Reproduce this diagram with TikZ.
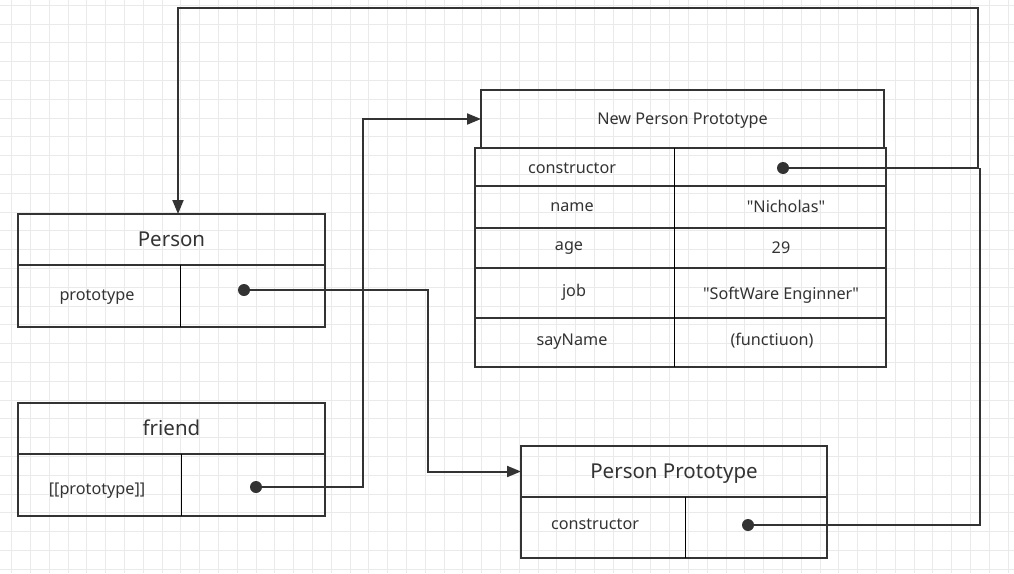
\documentclass[tikz,border=0pt]{standalone}
\usepackage{fontspec}
\setmainfont{Noto Sans}
\usetikzlibrary{arrows.meta, positioning}
\definecolor{ink}{HTML}{333333}
\definecolor{gridgray}{HTML}{EAEAEA}

\begin{document}
\begin{tikzpicture}[x=1pt, y=-1pt, >={Triangle[length=14pt, width=11pt]},
  head/.style={draw=ink, line width=1.8pt, text=ink, inner sep=0pt, outer sep=0pt, text height=18.6pt, text depth=4pt, font=\fontsize{20.5}{23}\selectfont},
  row/.style={draw=ink, line width=1.8pt, inner sep=0pt, outer sep=0pt},
  label/.style={text=ink, inner sep=0pt, text height=15pt, text depth=3.4pt, font=\fontsize{16.2}{19}\selectfont},
  divider/.style={draw=black, line width=1pt},
  ptr/.style={circle, fill=ink, inner sep=0pt, minimum size=12pt},
  link/.style={draw=ink, line width=2pt, line join=miter}]
\useasboundingbox (0,0) rectangle (1014,573);
% background grid
\foreach \i in {0,...,53} \draw[gridgray, line width=1pt] ({11.6+18.8*\i},0) -- ++(0,573);
\foreach \j in {0,...,30} \draw[gridgray, line width=1pt] (0,{5.3+18.8*\j}) -- ++(1014,0);

% Person
\node[head, minimum width=307, minimum height=51] (person) at (171.5,239.5) {Person};
\node[row, minimum width=307, minimum height=62, below=0 of person] (personrow) {};
\node[label] (personkey) at (97,295) {prototype};
\node[ptr] (personptr) at (244,290) {};
\draw[divider] (personrow.north west -| 180,0) -- (personrow.south west -| 180,0);

% friend
\node[head, minimum width=307, minimum height=51] (friend) at (171.5,428.5) {friend};
\node[row, minimum width=307, minimum height=62, below=0 of friend] (friendrow) {};
\node[label] (friendkey) at (97,489) {[[prototype]]};
\node[ptr] (friendptr) at (256,487) {};
\draw[divider] (friendrow.north west -| 181,0) -- (friendrow.south west -| 181,0);

% Person Prototype
\node[head, minimum width=306, minimum height=51] (pproto) at (674,471.5) {Person Prototype};
\node[row, minimum width=306, minimum height=61, below=0 of pproto] (pprotorow) {};
\node[label] (pconskey) at (595,524) {constructor};
\node[ptr] (pconsptr) at (748,525) {};
\draw[divider] (pprotorow.north west -| 685,0) -- (pprotorow.south west -| 685,0);

% New Person Prototype
\node[row, label, minimum width=403, minimum height=58] (newproto) at (682.5,119) {New Person Prototype};
\node[row, minimum width=411, minimum height=38, anchor=north west] (nrow1) at (475,148) {};
\node[row, minimum width=411, minimum height=42, below=0 of nrow1] (nrow2) {};
\node[row, minimum width=411, minimum height=40, below=0 of nrow2] (nrow3) {};
\node[row, minimum width=411, minimum height=50, below=0 of nrow3] (nrow4) {};
\node[row, minimum width=411, minimum height=49, below=0 of nrow4] (nrow5) {};
\draw[divider] (674,148) -- (nrow5.south west -| 674,0);
\node[label] (nconskey) at (572,168) {constructor};
\node[label] (namekey) at (572,206) {name};
\node[label] (agekey) at (569,245) {age};
\node[label] (jobkey) at (574,291) {job};
\node[label] (saykey) at (572,340) {sayName};
\node[ptr] (nconsptr) at (783,168) {};
\node[label] (nameval) at (786,207) {\textquotedbl Nicholas\textquotedbl};
\node[label] (ageval) at (781,248) {29};
\node[label] (jobval) at (781,294) {\textquotedbl SoftWare Enginner\textquotedbl};
\node[label] (sayval) at (772,340) {(functiuon)};

% connectors
\coordinate (bendproto) at (428,290);
\coordinate (bendfriend) at (363,487);
\coordinate (topright) at (978,8);
\coordinate (topleft) at (178,8);
\coordinate (lowright) at (980,525);
\draw[link, ->] (personptr.center) -- (bendproto) |- (pproto.west);
\draw[link, ->] (friendptr.center) -- (bendfriend) |- (newproto.west);
\draw[link, ->] (nconsptr.center) -| (topright) -- (topleft) -- (topleft |- person.north);
\draw[link] (pconsptr.center) -- (lowright) -- (lowright |- nconsptr);
\end{tikzpicture}
\end{document}
